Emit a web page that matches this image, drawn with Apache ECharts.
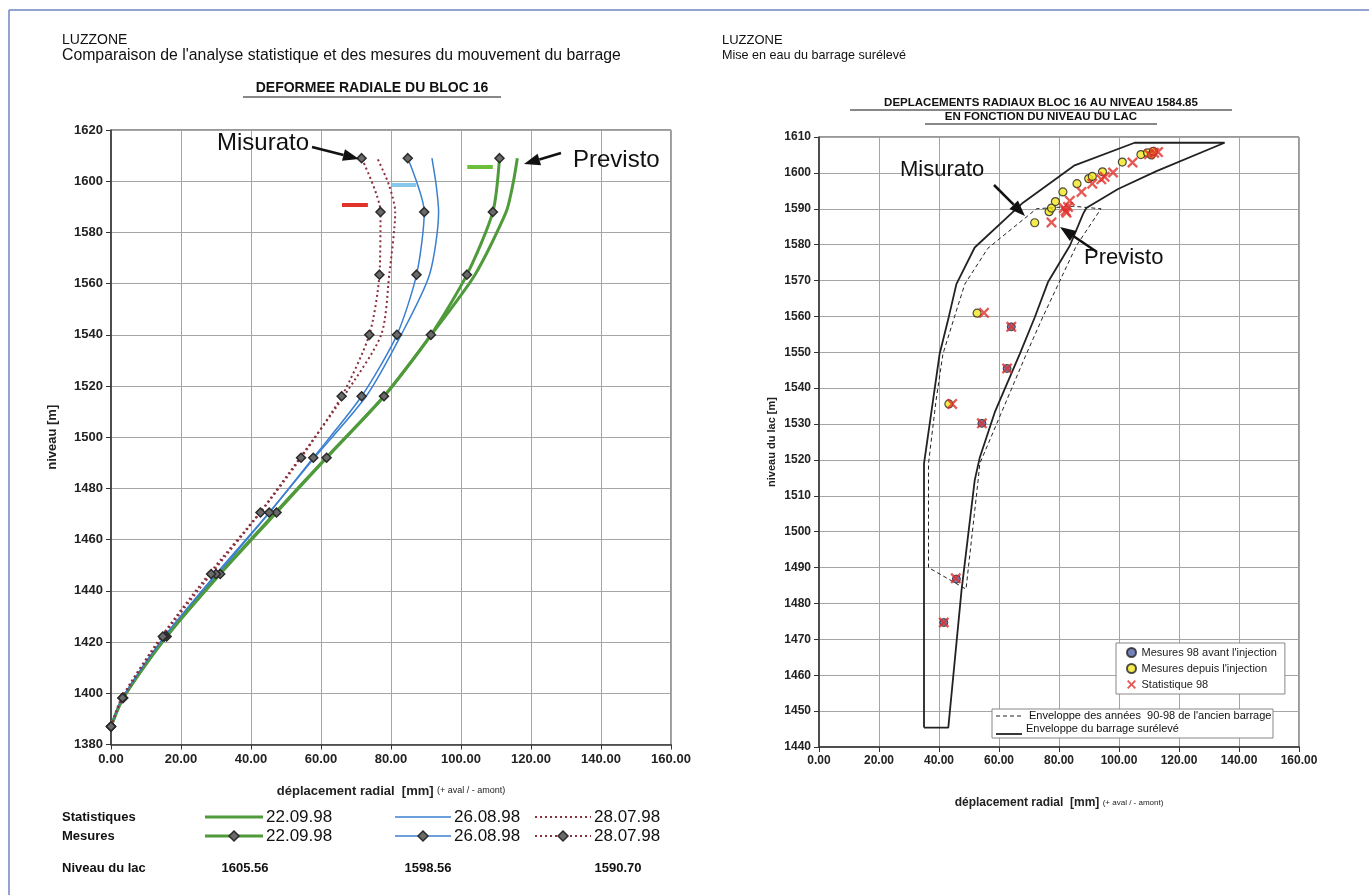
<!DOCTYPE html>
<html>
<head>
<meta charset="utf-8">
<script src="https://cdn.jsdelivr.net/npm/echarts@6/dist/echarts.min.js"></script>
<style>
html, body { margin: 0; padding: 0; background: #fff; }
#container { width: 1369px; height: 895px; }
</style>
</head>
<body>
<div id="container"></div>
<script>
// --- left chart: radial deformation of block 16 ---
var mesLevels = [1387, 1398.2, 1422.2, 1446.6, 1470.6, 1492, 1516, 1540, 1563.5, 1588, 1609];
var mes0922 = [0, 3.5, 15.9, 31.2, 47.3, 61.6, 78.0, 91.4, 101.7, 109.1, 111.0];
var mes0826 = [0, 3.3, 15.3, 30.0, 45.2, 57.8, 71.6, 81.7, 87.3, 89.5, 84.8];
var mes0728 = [0, 3.3, 14.8, 28.6, 42.7, 54.3, 65.9, 73.8, 76.7, 77.0, 71.6];

var statLevels = [1387, 1398.2, 1422.2, 1446.6, 1470.6, 1492, 1516, 1540, 1563.5, 1588, 1598.6, 1609];
var stat0922 = [0, 3.5, 15.9, 31.0, 47.0, 61.5, 78.0, 91.5, 104.0, 112.9, 114.8, 116.1];
var stat0826 = [0, 3.3, 15.3, 30.5, 45.3, 58.1, 72.9, 82.9, 91.0, 93.6, 92.9, 91.7];
var stat0728 = [0, 3.0, 14.4, 28.0, 42.5, 54.0, 66.5, 77.2, 79.5, 81.2, 79.4, 76.1];

var lakeLevels = [1605.56, 1598.56, 1590.70];
var lakeFrom = [101.8, 80.2, 66.0];
var lakeTo = [109.1, 87.2, 73.4];
var lakeColors = ['#6cbf3a', '#86c8ec', '#e2332a'];

var leftXTicks = { min: 0, max: 160, interval: 20 };
var leftYTicks = { min: 1380, max: 1620, interval: 20 };

// --- right chart: radial displacement vs lake level ---
var avantX = [64.1, 62.7, 54.3, 45.8, 41.6];
var avantY = [1557.1, 1545.5, 1530.2, 1486.8, 1474.7];

var depuisX = [52.7, 43.3, 71.9, 76.7, 77.5, 78.8, 81.3, 86.0, 89.9, 91.1, 94.5, 101.1, 107.3, 109.5, 110.8, 111.5];
var depuisY = [1560.9, 1535.6, 1586.1, 1589.2, 1590.2, 1592.0, 1594.7, 1597.0, 1598.4, 1599.0, 1600.3, 1603.0, 1605.1, 1605.6, 1605.0, 1606.0];

var stat98X = [55.0, 64.1, 62.7, 44.4, 54.3, 45.6, 41.6, 77.5, 81.6, 82.2, 83.0, 83.6, 82.5, 87.5, 91.1, 94.1, 95.2, 98.0, 104.5, 110.0, 111.7, 113.0];
var stat98Y = [1561.0, 1557.1, 1545.5, 1535.6, 1530.2, 1487.0, 1474.7, 1586.2, 1590.2, 1589.4, 1590.5, 1592.2, 1588.9, 1594.7, 1597.0, 1598.2, 1598.9, 1600.1, 1602.9, 1605.2, 1605.6, 1605.8];

var oldEnvX = [36.5, 36.5, 39.0, 41.3, 45.2, 48.6, 56.3, 72.5, 84.7, 94.0, 85.8, 74.7, 69.1, 53.6, 53.0, 49.0, 36.5];
var oldEnvY = [1490, 1519, 1536.5, 1549.5, 1560, 1569, 1579, 1590, 1590.7, 1590, 1579.7, 1560, 1549.5, 1519, 1514, 1484, 1490];

var newEnvX = [35.0, 35.0, 38.0, 40.2, 43.3, 45.8, 51.9, 68.0, 85.0, 105.2, 135.2, 112.5, 99.7, 89.1, 88.0, 83.6, 76.3, 71.9, 66.9, 58.6, 53.6, 51.9, 47.5, 43.1, 35.0];
var newEnvY = [1445.4, 1519, 1536.5, 1549.5, 1560, 1569, 1579.2, 1591.7, 1602, 1608.4, 1608.4, 1600.5, 1595.5, 1590.2, 1588.5, 1579.7, 1569.5, 1559.7, 1549.5, 1533.3, 1520.7, 1514.3, 1483.6, 1445.4, 1445.4];

var rightXTicks = { min: 0, max: 160, interval: 20 };
var rightYTicks = { min: 1440, max: 1610, interval: 10 };

function pairs(xs, ys) {
    var out = [];
    for (var i = 0; i < xs.length; i++) out.push([xs[i], ys[i]]);
    return out;
}

var FONT = '"Liberation Sans", Arial, sans-serif';
var GREEN = '#4f9a3a';
var BLUE = '#3b7fd0';
var DOTRED = '#8a2f3e';
var XPATH = 'path://M0,1.5 L1.5,0 L5,3.5 L8.5,0 L10,1.5 L6.5,5 L10,8.5 L8.5,10 L5,6.5 L1.5,10 L0,8.5 L3.5,5 Z';

function valueAxis(grid, ticks, fontSize) {
    return {
        type: 'value', gridIndex: grid,
        min: ticks.min, max: ticks.max, interval: ticks.interval,
        axisLine: { show: true, onZero: false, lineStyle: { color: '#333', width: 1.5 } },
        axisTick: { show: true, length: 5, lineStyle: { color: '#333' } },
        splitLine: { show: true, lineStyle: { color: '#a5a5a5', width: 1 } },
        axisLabel: { color: '#222', fontFamily: FONT, fontSize: fontSize, fontWeight: 'bold', margin: 8,
            formatter: function (v) { return String(v); } }
    };
}

var xLeft = valueAxis(0, leftXTicks, 13);
xLeft.axisLabel.formatter = function (v) { return v.toFixed(2); };
xLeft.name = '{a|déplacement radial  [mm]} {b|(+ aval / - amont)}';
xLeft.nameLocation = 'middle';
xLeft.nameGap = 40;
xLeft.nameTextStyle = { rich: {
    a: { fontFamily: FONT, fontSize: 13, fontWeight: 'bold', color: '#222' },
    b: { fontFamily: FONT, fontSize: 9, color: '#222' } } };

var yLeft = valueAxis(0, leftYTicks, 13);
yLeft.name = 'niveau [m]';
yLeft.nameLocation = 'middle';
yLeft.nameGap = 52;
yLeft.nameTextStyle = { fontFamily: FONT, fontSize: 13, fontWeight: 'bold', color: '#222' };

var xRight = valueAxis(1, rightXTicks, 12);
xRight.axisLabel.formatter = function (v) { return v.toFixed(2); };
xRight.name = '{a|déplacement radial  [mm]} {b|(+ aval / - amont)}';
xRight.nameLocation = 'middle';
xRight.nameGap = 50;
xRight.nameTextStyle = { rich: {
    a: { fontFamily: FONT, fontSize: 12, fontWeight: 'bold', color: '#222' },
    b: { fontFamily: FONT, fontSize: 8, color: '#222' } } };

var yRight = valueAxis(1, rightYTicks, 12);
yRight.name = 'niveau du lac [m]';
yRight.nameLocation = 'middle';
yRight.nameGap = 42;
yRight.nameTextStyle = { fontFamily: FONT, fontSize: 11, fontWeight: 'bold', color: '#222' };

function curve(name, xs, ys, color, width, type, marked) {
    return {
        name: name, type: 'line', xAxisIndex: 0, yAxisIndex: 0,
        data: pairs(xs, ys), smooth: 0.25,
        showSymbol: !!marked, symbol: marked ? 'diamond' : 'none', symbolSize: 9,
        itemStyle: { color: '#6a6a6a', borderColor: '#2a2a2a', borderWidth: 1.5 },
        lineStyle: { color: color, width: width, type: type },
        silent: true, animation: false, z: marked ? 4 : 3
    };
}

var series = [
    curve('Stat 22.09.98', stat0922, statLevels, GREEN, 3, 'solid', false),
    curve('Stat 26.08.98', stat0826, statLevels, BLUE, 1.5, 'solid', false),
    curve('Stat 28.07.98', stat0728, statLevels, DOTRED, 2, [2, 3], false),
    curve('Mes 22.09.98', mes0922, mesLevels, GREEN, 3, 'solid', true),
    curve('Mes 26.08.98', mes0826, mesLevels, BLUE, 1.5, 'solid', true),
    curve('Mes 28.07.98', mes0728, mesLevels, DOTRED, 2, [2, 3], true)
];
for (var i = 0; i < lakeLevels.length; i++) {
    series.push({
        name: 'Lac ' + lakeLevels[i], type: 'line', xAxisIndex: 0, yAxisIndex: 0,
        data: [[lakeFrom[i], lakeLevels[i]], [lakeTo[i], lakeLevels[i]]],
        symbol: 'none', lineStyle: { color: lakeColors[i], width: 4 },
        silent: true, animation: false
    });
}
series.push(
    { name: "Enveloppe des années  90-98 de l'ancien barrage", type: 'line', xAxisIndex: 1, yAxisIndex: 1,
      data: pairs(oldEnvX, oldEnvY), symbol: 'none', color: '#222',
      lineStyle: { color: '#222', width: 1, type: [4, 3] }, silent: true, animation: false },
    { name: 'Enveloppe du barrage surélevé', type: 'line', xAxisIndex: 1, yAxisIndex: 1,
      data: pairs(newEnvX, newEnvY), symbol: 'none', color: '#222',
      lineStyle: { color: '#222', width: 1.8 }, silent: true, animation: false },
    { name: "Mesures 98 avant l'injection", type: 'scatter', xAxisIndex: 1, yAxisIndex: 1,
      data: pairs(avantX, avantY), symbol: 'circle', symbolSize: 8,
      itemStyle: { color: '#5060a8', borderColor: '#222', borderWidth: 1 }, z: 5, animation: false },
    { name: "Mesures depuis l'injection", type: 'scatter', xAxisIndex: 1, yAxisIndex: 1,
      data: pairs(depuisX, depuisY), symbol: 'circle', symbolSize: 8,
      itemStyle: { color: '#f2e620', borderColor: '#222', borderWidth: 1.2 }, z: 5, animation: false },
    { name: 'Statistique 98', type: 'scatter', xAxisIndex: 1, yAxisIndex: 1,
      data: pairs(stat98X, stat98Y), symbol: XPATH, symbolSize: 11,
      itemStyle: { color: '#e0302a' }, z: 6, animation: false }
);

function arrow(x1, y1, x2, y2) {
    var a = Math.atan2(y2 - y1, x2 - x1), L = 16, W = 6;
    var bx = x2 - L * Math.cos(a), by = y2 - L * Math.sin(a);
    var nx = -Math.sin(a) * W, ny = Math.cos(a) * W;
    return [
        { type: 'line', shape: { x1: x1, y1: y1, x2: bx, y2: by }, style: { stroke: '#111', lineWidth: 2.5 }, z: 20 },
        { type: 'polygon', shape: { points: [[x2, y2], [bx + nx, by + ny], [bx - nx, by - ny]] }, style: { fill: '#111' }, z: 20 }
    ];
}

function txt(x, y, s, font, align) {
    return { type: 'text', z: 20, style: { x: x, y: y, text: s, font: font, fill: '#111',
        textAlign: align || 'left', textVerticalAlign: 'middle' } };
}
function seg(x1, y1, x2, y2, color, w, dash) {
    return { type: 'line', z: 20, shape: { x1: x1, y1: y1, x2: x2, y2: y2 },
        style: { stroke: color, lineWidth: w, lineDash: dash || null } };
}
function diamond(x, y) {
    return { type: 'polygon', z: 21, shape: { points: [[x, y - 5], [x + 5, y], [x, y + 5], [x - 5, y]] },
        style: { fill: '#6a6a6a', stroke: '#2a2a2a', lineWidth: 1.5 } };
}

var graphics = [
    seg(9, 10, 1369, 10, '#6f86c4', 1.5),
    seg(9, 10, 9, 895, '#6f86c4', 1.5),
    txt(62, 40, 'LUZZONE', '14px ' + FONT),
    txt(62, 56, "Comparaison de l'analyse statistique et des mesures du mouvement du barrage", '15.8px ' + FONT),
    txt(372, 88, 'DEFORMEE RADIALE DU BLOC 16', 'bold 14px ' + FONT, 'center'),
    seg(243, 97, 501, 97, '#111', 1),
    txt(722, 40, 'LUZZONE', '13px ' + FONT),
    txt(722, 56, 'Mise en eau du barrage surélevé', '12.6px ' + FONT),
    txt(1041, 103, 'DEPLACEMENTS RADIAUX BLOC 16 AU NIVEAU 1584.85', 'bold 11.5px ' + FONT, 'center'),
    seg(850, 110, 1232, 110, '#111', 1),
    txt(1041, 117, 'EN FONCTION DU NIVEAU DU LAC', 'bold 11.5px ' + FONT, 'center'),
    seg(925, 124, 1157, 124, '#111', 1),
    // annotations
    txt(217, 143, 'Misurato', '24px ' + FONT),
    txt(573, 160, 'Previsto', '24px ' + FONT),
    txt(900, 170, 'Misurato', '22px ' + FONT),
    txt(1084, 258, 'Previsto', '22px ' + FONT),
    // left legend
    txt(62, 817, 'Statistiques', 'bold 13px ' + FONT),
    txt(62, 836, 'Mesures', 'bold 13px ' + FONT),
    txt(62, 868, 'Niveau du lac', 'bold 13px ' + FONT),
    seg(205, 817, 263, 817, GREEN, 3),
    seg(395, 817, 451, 817, BLUE, 1.5),
    seg(535, 817, 591, 817, DOTRED, 2, [2, 3]),
    seg(205, 836, 263, 836, GREEN, 3),
    seg(395, 836, 451, 836, BLUE, 1.5),
    seg(535, 836, 591, 836, DOTRED, 2, [2, 3]),
    diamond(234, 836), diamond(423, 836), diamond(563, 836),
    txt(266, 817, '22.09.98', '17px ' + FONT), txt(454, 817, '26.08.98', '17px ' + FONT), txt(594, 817, '28.07.98', '17px ' + FONT),
    txt(266, 836, '22.09.98', '17px ' + FONT), txt(454, 836, '26.08.98', '17px ' + FONT), txt(594, 836, '28.07.98', '17px ' + FONT),
    txt(245, 868, lakeLevels[0].toFixed(2), 'bold 13px ' + FONT, 'center'),
    txt(428, 868, lakeLevels[1].toFixed(2), 'bold 13px ' + FONT, 'center'),
    txt(618, 868, lakeLevels[2].toFixed(2), 'bold 13px ' + FONT, 'center'),
    // right envelope legend
    { type: 'rect', z: 19, shape: { x: 992, y: 709, width: 281, height: 29 },
      style: { fill: '#fff', stroke: '#888', lineWidth: 1 } },
    seg(996, 716, 1022, 716, '#222', 1, [4, 3]),
    seg(996, 734, 1022, 734, '#222', 1.8),
    txt(1029, 716, "Enveloppe des années  90-98 de l'ancien barrage", '11px ' + FONT),
    txt(1026, 729, 'Enveloppe du barrage surélevé', '11px ' + FONT)
];
graphics = graphics.concat(arrow(312, 147, 359, 159), arrow(561, 153, 524, 164),
    arrow(994, 185, 1025, 216), arrow(1097, 252, 1060, 227));

var myChart = echarts.init(document.getElementById('container'));
var option = {
    backgroundColor: '#fff',
    animation: false,
    grid: [
        { left: 111, top: 130, width: 560, height: 614.5, show: true, borderColor: '#333', borderWidth: 1, containLabel: false },
        { left: 819, top: 137, width: 480, height: 610, show: true, borderColor: '#333', borderWidth: 1, containLabel: false }
    ],
    xAxis: [xLeft, xRight],
    yAxis: [yLeft, yRight],
    legend: [
        { data: ["Mesures 98 avant l'injection", "Mesures depuis l'injection", 'Statistique 98'],
          orient: 'vertical', left: 1116, top: 643, itemWidth: 10, itemHeight: 9, itemGap: 5,
          padding: [4, 8, 4, 10], borderColor: '#888', borderWidth: 1, backgroundColor: '#fff',
          textStyle: { fontFamily: FONT, fontSize: 11, color: '#222' }, selectedMode: false }
    ],
    graphic: graphics,
    series: series
};
myChart.setOption(option);
</script>
</body>
</html>
